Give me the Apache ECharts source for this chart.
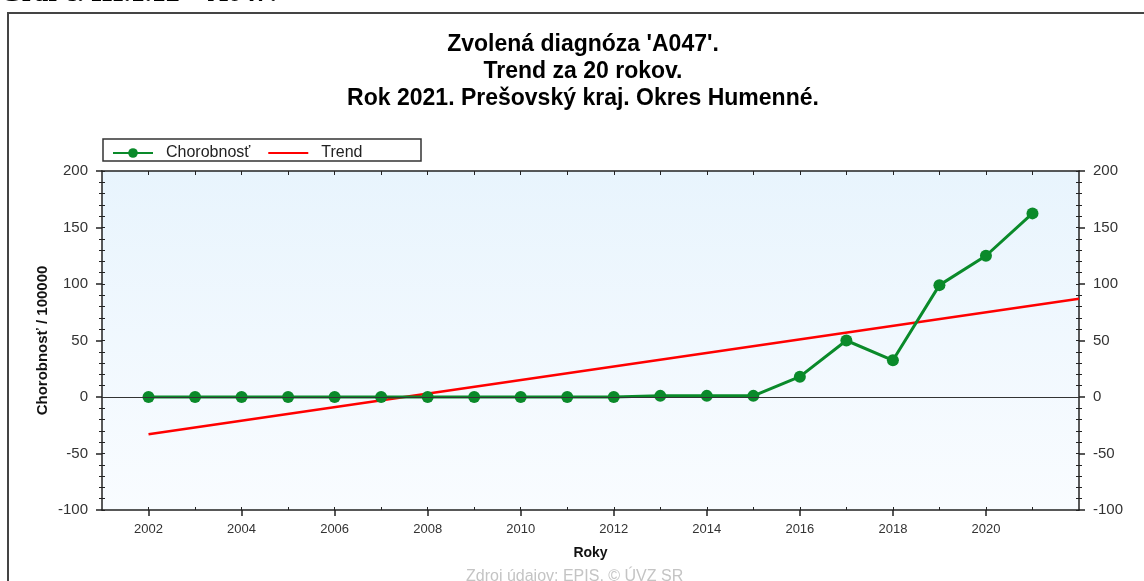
<!DOCTYPE html>
<html>
<head>
<meta charset="utf-8">
<script src="https://cdn.jsdelivr.net/npm/echarts@6/dist/echarts.min.js"></script>
<style>
  html, body { margin: 0; padding: 0; background: #fff; }
  #chart { width: 1144px; height: 581px; }
</style>
</head>
<body>
<div id="chart"></div>
<script>
// chorobnosť na 100000, okres Humenné
const years = [2002, 2003, 2004, 2005, 2006, 2007, 2008, 2009, 2010, 2011,
  2012, 2013, 2014, 2015, 2016, 2017, 2018, 2019, 2020, 2021];
const chorobnost = [0, 0, 0, 0, 0, 0, 0, 0, 0, 0,
  0, 1, 1, 1, 18, 50, 32.5, 99, 125, 162.5];
// trend line end points
const trendYears = [2002, 2022];
const trendValues = [-33, 87];
const yearLabels = [2002, 2004, 2006, 2008, 2010, 2012, 2014, 2016, 2018, 2020];
const allYearTicks = [2002, 2003, 2004, 2005, 2006, 2007, 2008, 2009, 2010, 2011,
  2012, 2013, 2014, 2015, 2016, 2017, 2018, 2019, 2020, 2021];

const chart = echarts.init(document.getElementById('chart'));
const font = 'Liberation Sans, Arial, sans-serif';

const yBase = {
  type: 'value', min: -100, max: 200, interval: 50,
  splitLine: { show: false },
  axisLine: { show: true, lineStyle: { color: '#222', width: 1.5 } },
  minorTick: { show: true, splitNumber: 5, length: 3, lineStyle: { color: '#222' } },
  axisTick: { show: true, length: 6, lineStyle: { color: '#222', width: 1.5 } },
  axisLabel: { color: '#333', fontSize: 15, fontFamily: font, margin: 14 }
};

const option = {
  animation: false,
  grid: {
    left: 102, right: 65, top: 171, bottom: 71,
    show: true, borderWidth: 0,
    backgroundColor: {
      type: 'linear', x: 0, y: 0, x2: 0, y2: 1,
      colorStops: [{ offset: 0, color: '#e8f4fd' }, { offset: 1, color: '#f9fcff' }]
    }
  },
  title: [
    {
      text: "Zvolená diagnóza 'A047'.\nTrend za 20 rokov.\nRok 2021. Prešovský kraj. Okres Humenné.",
      left: 578, top: 26, textAlign: 'center',
      textStyle: { fontFamily: font, fontSize: 23, fontWeight: 'bold', color: '#000', lineHeight: 27 }
    }
  ],
  legend: {
    left: 107, top: 140, itemWidth: 40, itemHeight: 12, itemGap: 17,
    textStyle: { fontFamily: font, fontSize: 16, color: '#222', padding: [0, 0, 0, 8] },
    data: [
      { name: 'Chorobnosť' },
      { name: 'Trend', itemStyle: { opacity: 0 } }
    ]
  },
  graphic: [
    { type: 'rect', shape: { x: 8, y: 13, width: 1300, height: 700 },
      style: { fill: 'none', stroke: '#444', lineWidth: 2 } },
    { type: 'rect', shape: { x: 103, y: 139, width: 318, height: 22 },
      style: { fill: 'none', stroke: '#333', lineWidth: 1.5 } },
    { type: 'text', left: 0, top: -20,
      style: { text: 'Graf č. III.1.12 – A047.', font: 'bold 28px Liberation Serif', fill: '#000' } },
    { type: 'text', left: 466, top: 569,
      style: { text: 'Zdroj údajov: EPIS, © ÚVZ SR', font: '16px Liberation Sans', fill: '#c4c4c4' } }
  ],
  xAxis: [
    {
      type: 'value', min: 2001, max: 2022, position: 'bottom',
      name: 'Roky', nameLocation: 'middle', nameGap: 36,
      nameTextStyle: { fontFamily: font, fontSize: 14, fontWeight: 'bold', color: '#111' },
      splitLine: { show: false },
      axisLine: { show: true, onZero: false, lineStyle: { color: '#222', width: 1.5 } },
      axisTick: { show: true, customValues: yearLabels, length: 6, lineStyle: { color: '#222', width: 1.5 } },
      axisLabel: {
        customValues: yearLabels, color: '#333', fontSize: 13, fontFamily: font, margin: 13,
        formatter: v => String(v)
      }
    },
    {
      type: 'value', min: 2001, max: 2022, position: 'bottom',
      splitLine: { show: false },
      axisLine: { show: false, onZero: false },
      axisTick: { show: true, inside: true, customValues: allYearTicks, length: 3, lineStyle: { color: '#222' } },
      axisLabel: { show: false }
    },
    {
      type: 'value', min: 2001, max: 2022, position: 'top',
      splitLine: { show: false },
      axisLine: { show: true, onZero: false, lineStyle: { color: '#222', width: 1.5 } },
      axisTick: { show: true, inside: true, customValues: allYearTicks, length: 4, lineStyle: { color: '#222' } },
      axisLabel: { show: false }
    }
  ],
  yAxis: [
    Object.assign({}, yBase, {
      position: 'left',
      name: 'Chorobnosť / 100000', nameLocation: 'middle', nameGap: 52, nameMoveOverlap: false,
      nameTextStyle: { fontFamily: font, fontSize: 15, fontWeight: 'bold', color: '#111' }
    }),
    Object.assign({}, yBase, { position: 'right' }),
    Object.assign({}, yBase, {
      position: 'left', axisLine: { show: false },
      axisTick: { show: true, inside: true, length: 3, lineStyle: { color: '#222' } },
      minorTick: { show: true, splitNumber: 5, length: 3, lineStyle: { color: '#222' } },
      axisLabel: { show: false }
    }),
    Object.assign({}, yBase, {
      position: 'right', axisLine: { show: false },
      axisTick: { show: true, inside: true, length: 3, lineStyle: { color: '#222' } },
      minorTick: { show: true, splitNumber: 5, length: 3, lineStyle: { color: '#222' } },
      axisLabel: { show: false }
    })
  ],
  series: [
    {
      name: 'Trend', type: 'line', xAxisIndex: 0, yAxisIndex: 0,
      data: trendYears.map((y, i) => [y, trendValues[i]]),
      symbol: 'none', z: 3,
      lineStyle: { color: '#ff0000', width: 2.5 }, itemStyle: { color: '#ff0000' },
      markLine: {
        silent: true, symbol: 'none', label: { show: false },
        lineStyle: { color: '#333', width: 1.2, type: 'solid' },
        data: [{ yAxis: 0 }]
      }
    },
    {
      name: 'Chorobnosť', type: 'line', xAxisIndex: 0, yAxisIndex: 0,
      data: years.map((y, i) => [y, chorobnost[i]]),
      symbol: 'circle', symbolSize: 12, z: 4,
      lineStyle: { color: '#0a8a2a', width: 3 }, itemStyle: { color: '#0a8a2a' }
    }
  ]
};
chart.setOption(option);
</script>
</body>
</html>
